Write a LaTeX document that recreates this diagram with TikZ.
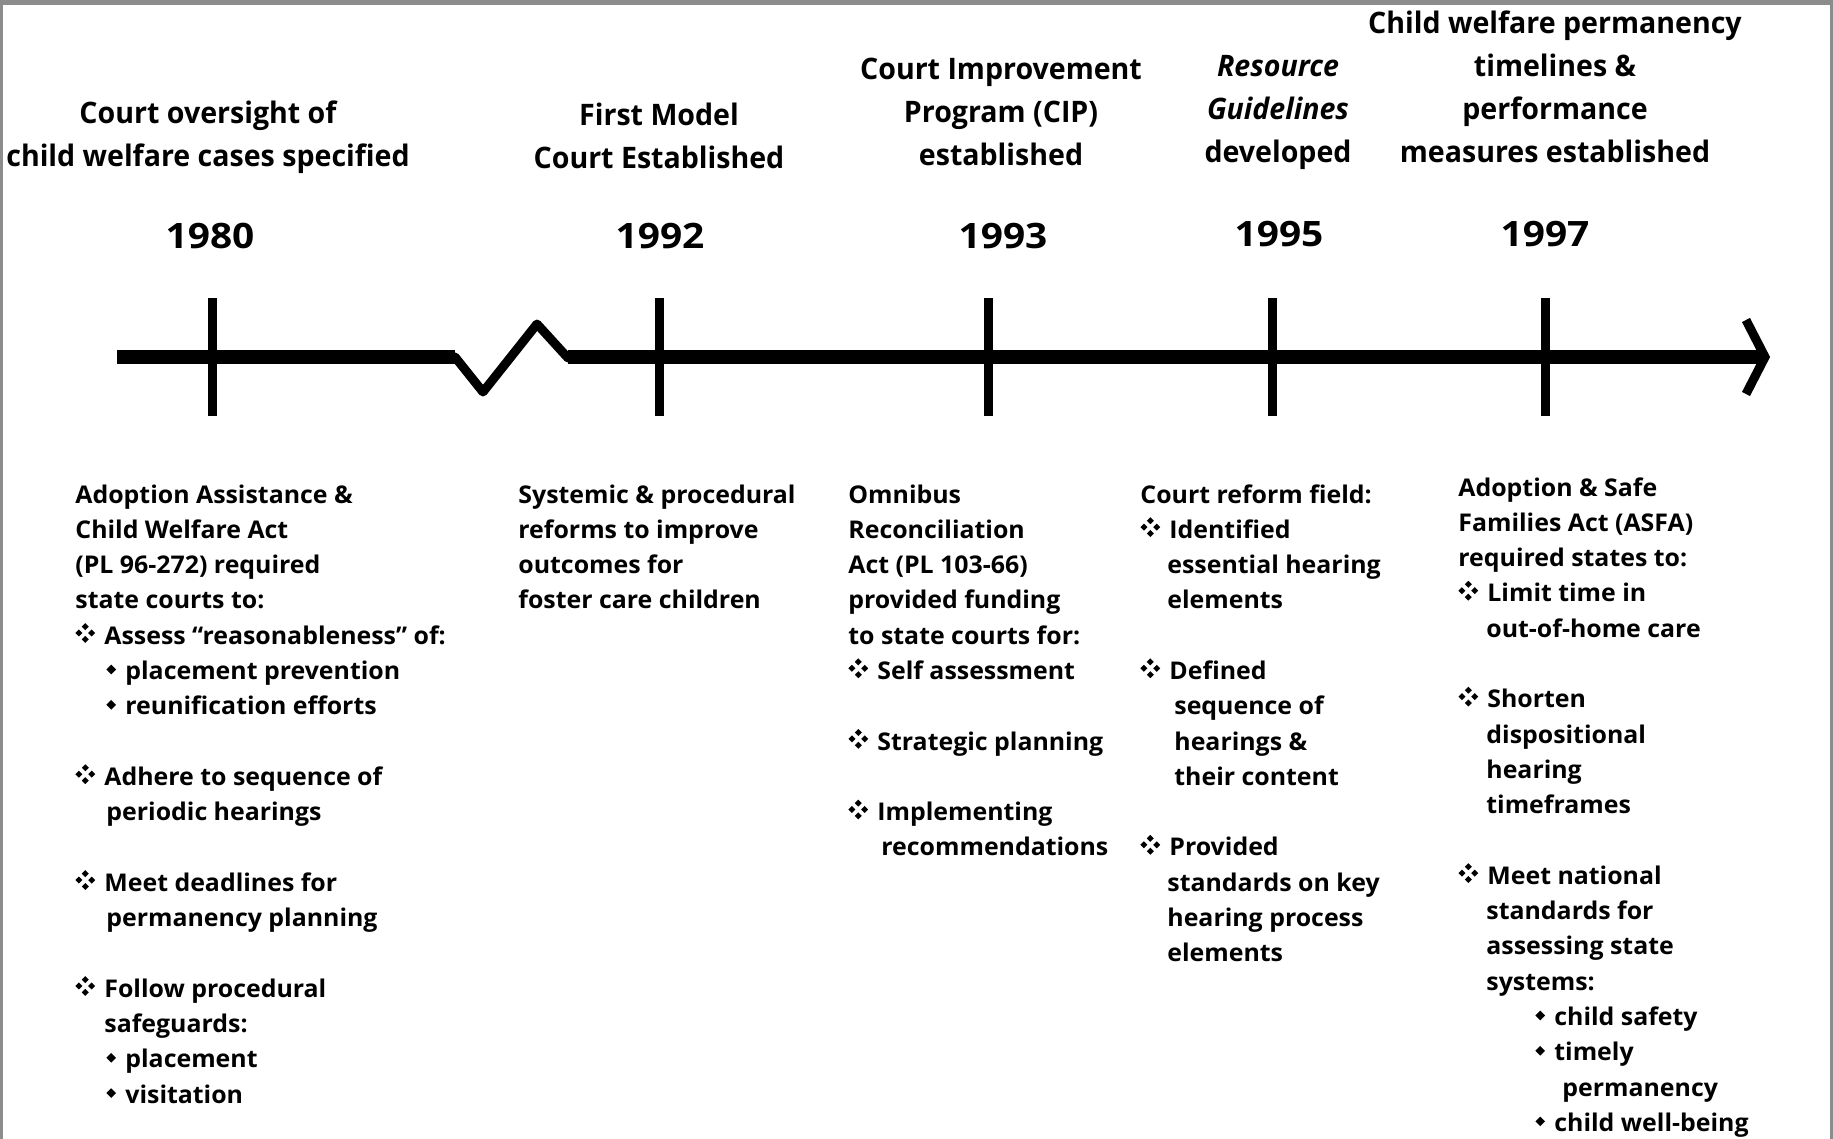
\documentclass[tikz,border=0pt]{standalone}
\usepackage{fontspec}
% humanist bold sans for all text
\newfontfamily\bodyfont{Open Sans}[FakeStretch=1.02]
\newfontfamily\titlefont{Open Sans}[FakeStretch=0.965]
\newfontfamily\yearfont{Open Sans}[FakeStretch=1.11]
% bullet helpers: four-diamond mark, small diamond, indents
\newcommand\fdia{\makebox[14.5pt][l]{\tikz[x=1pt,y=1pt,baseline=0pt]{%
  \foreach \cx/\cy in {1.8/5.6,8.2/5.6,5/8.8,5/2.4}{%
    \fill[black] (\cx-1.75,\cy) -- (\cx,\cy+1.75) -- (\cx+1.75,\cy) -- (\cx,\cy-1.75) -- cycle;}}}}
\newcommand\sdia{\makebox[9.5pt][l]{\tikz[x=1pt,y=1pt,baseline=0pt]{%
  \fill[black] (0,5) -- (2.4,7.4) -- (4.8,5) -- (2.4,2.6) -- cycle;}}}
\newcommand\cind{\hspace*{15.5pt}}
\begin{document}
\begin{tikzpicture}[x=0.5pt,y=-0.5pt,
  axis/.style={line width=7pt},
  zig/.style={line width=4.5pt,line join=round,line cap=round},
  tick/.style={line width=4.5pt},
  chev/.style={line width=4.5pt,line join=miter},
  body/.style={inner sep=0pt,anchor=base west,font=\bodyfont\bfseries\fontsize{12.2pt}{17.65pt}\selectfont},
  title/.style={inner sep=0pt,anchor=base,font=\titlefont\bfseries\fontsize{14.8pt}{21.5pt}\selectfont},
  year/.style={inner sep=0pt,anchor=base,font=\yearfont\bfseries\fontsize{17.5pt}{20pt}\selectfont}]
% frame
\fill[black!45] (0,0) rectangle (1833,1139);
\fill[white] (3,5) rectangle (1830,1139);
\useasboundingbox (0,0) rectangle (1833,1139);

% timeline axis with a break
\coordinate (ls) at (117,357);
\coordinate (zs) at (455,357);
\coordinate (zb) at (483,392);
\coordinate (zt) at (537,324);
\coordinate (ze) at (568,358);
\coordinate (ze2) at (568,357);
\coordinate (le) at (1760,357);
\coordinate (tip) at (1765,357);
\coordinate (hu) at (1746,320);
\coordinate (hd) at (1746,394);
\draw[axis] (ls) -- (zs);
\draw[zig] (zs) -- (zb) -- (zt) -- (ze);
\draw[axis] (ze2) -- (le);
\draw[chev] (hu) -- (tip) -- (hd);

% ticks
\foreach \n/\x in {a/212,b/659,c/988,d/1272,e/1545}{
  \coordinate (\n top) at (\x,298);
  \coordinate (\n bot) at (\x,416);
  \draw[tick] (\n top) -- (\n bot);
}

% years
\node[year] (y1980) at (210,249) {1980};
\node[year] (y1992) at (660,249) {1992};
\node[year] (y1993) at (1003,249) {1993};
\node[year] (y1995) at (1279,247) {1995};
\node[year] (y1997) at (1545,247) {1997};

% milestone titles
\node[title] (h1980) at (208,124) {\begin{tabular}[t]{@{}c@{}}Court oversight of\\child welfare cases specified\end{tabular}};
\node[title] (h1992) at (659,126) {\begin{tabular}[t]{@{}c@{}}First Model\\Court Established\end{tabular}};
\node[title] (h1993) at (1001,80) {\begin{tabular}[t]{@{}c@{}}Court Improvement\\Program (CIP)\\established\end{tabular}};
\node[title] (h1995) at (1278,77) {\begin{tabular}[t]{@{}c@{}}\itshape Resource\\\itshape Guidelines\\developed\end{tabular}};
\node[title] (h1997) at (1555,34) {\begin{tabular}[t]{@{}c@{}}Child welfare permanency\\timelines \&\\performance\\measures established\end{tabular}};

% descriptions
\node[body] (d1980) at (75,503) {\begin{tabular}[t]{@{}l@{}}
Adoption Assistance \&\\
Child Welfare Act\\
(PL 96-272) required\\
state courts to:\\
\fdia Assess “reasonableness” of:\\
\cind\sdia placement prevention\\
\cind\sdia reunification efforts\\
\\
\fdia Adhere to sequence of\\
\cind periodic hearings\\
\\
\fdia Meet deadlines for\\
\cind permanency planning\\
\\
\fdia Follow procedural\\
\hspace*{14.5pt}safeguards:\\
\cind\sdia placement\\
\cind\sdia visitation
\end{tabular}};

\node[body] (d1992) at (518,503) {\begin{tabular}[t]{@{}l@{}}
Systemic \& procedural\\
reforms to improve\\
outcomes for\\
foster care children
\end{tabular}};

\node[body] (d1993) at (848,503) {\begin{tabular}[t]{@{}l@{}}
Omnibus\\
Reconciliation\\
Act (PL 103-66)\\
provided funding\\
to state courts for:\\
\fdia Self assessment\\
\\
\fdia Strategic planning\\
\\
\fdia Implementing\\
\hspace*{16.5pt}recommendations
\end{tabular}};

\node[body] (d1995) at (1140,503) {\begin{tabular}[t]{@{}l@{}}
Court reform field:\\
\fdia Identified\\
\hspace*{13.5pt}essential hearing\\
\hspace*{13.5pt}elements\\
\\
\fdia Defined\\
\hspace*{17pt}sequence of\\
\hspace*{17pt}hearings \&\\
\hspace*{17pt}their content\\
\\
\fdia Provided\\
\hspace*{13.5pt}standards on key\\
\hspace*{13.5pt}hearing process\\
\hspace*{13.5pt}elements
\end{tabular}};

\node[body] (d1997) at (1458,496) {\begin{tabular}[t]{@{}l@{}}
Adoption \& Safe\\
Families Act (ASFA)\\
required states to:\\
\fdia Limit time in\\
\hspace*{14pt}out-of-home care\\
\\
\fdia Shorten\\
\hspace*{14pt}dispositional\\
\hspace*{14pt}hearing\\
\hspace*{14pt}timeframes\\
\\
\fdia Meet national\\
\hspace*{14pt}standards for\\
\hspace*{14pt}assessing state\\
\hspace*{14pt}systems:\\
\hspace*{38.5pt}\sdia child safety\\
\hspace*{38.5pt}\sdia timely\\
\hspace*{52pt}permanency\\
\hspace*{38.5pt}\sdia child well-being
\end{tabular}};
\end{tikzpicture}
\end{document}
